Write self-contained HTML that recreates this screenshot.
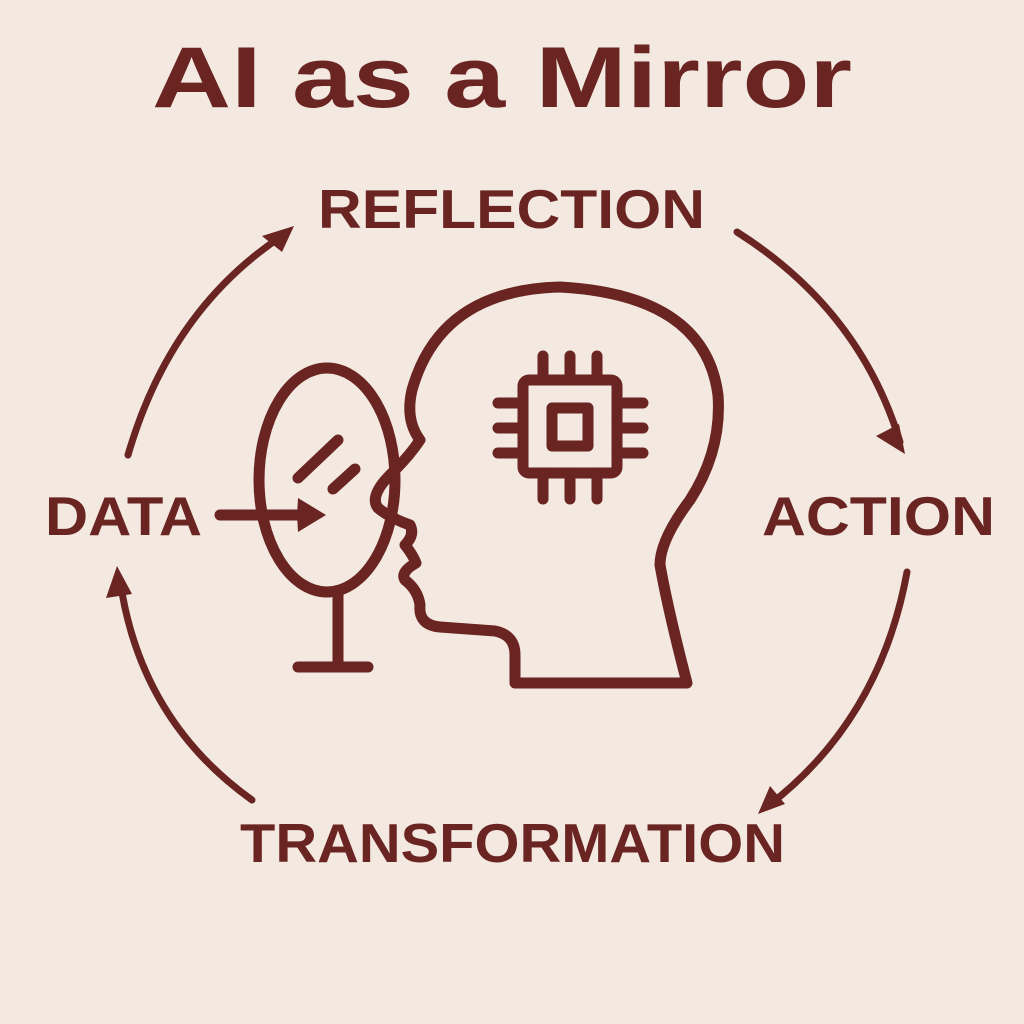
<!DOCTYPE html>
<html><head><meta charset="utf-8"><style>
html,body{margin:0;padding:0;background:#f3e9e0;}
svg{display:block}
text{font-family:"Liberation Sans",sans-serif;font-weight:bold;fill:#6a2422}
</style></head><body>
<svg width="1024" height="1024" viewBox="0 0 1024 1024">
<rect width="1024" height="1024" fill="#f3e9e0"/>
<text x="502" y="107" font-size="86" text-anchor="middle" textLength="700" lengthAdjust="spacingAndGlyphs">AI as a Mirror</text>
<text x="318" y="228" font-size="55" textLength="387" lengthAdjust="spacingAndGlyphs">REFLECTION</text>
<text x="45" y="535" font-size="55" textLength="157" lengthAdjust="spacingAndGlyphs">DATA</text>
<text x="762" y="535" font-size="55" textLength="233" lengthAdjust="spacingAndGlyphs">ACTION</text>
<text x="240" y="862" font-size="55" textLength="545" lengthAdjust="spacingAndGlyphs">TRANSFORMATION</text>
<g fill="none" stroke="#6a2422" stroke-width="11" stroke-linecap="round" stroke-linejoin="round">
<!-- cycle arcs -->
<path d="M128 455 Q170 310 282 236" stroke-width="7"/>
<path d="M737 232 Q860 310 900 442" stroke-width="7"/>
<path d="M907 572 Q880 720 768 806" stroke-width="7"/>
<path d="M252 800 Q140 720 120 580" stroke-width="7"/>
<!-- mirror -->
<ellipse cx="327" cy="480" rx="68" ry="112"/>
<line x1="338" y1="593" x2="338" y2="667"/>
<line x1="298" y1="667" x2="368" y2="667"/>
<line x1="298" y1="478" x2="338" y2="440"/>
<line x1="333" y1="489" x2="355" y2="469"/>
<line x1="220" y1="515" x2="300" y2="515"/>
<!-- head -->
<path d="M515 683 L687 683 Q668 610 660 565 Q660 540 690 500 Q722 450 718 395 Q705 295 560 287 Q440 290 412 390 Q405 420 420 440 Q410 455 395 470 Q368 495 378 508 Q390 518 410 525 Q415 535 405 545 Q413 555 416 563 Q400 572 405 580 Q418 590 420 605 Q418 625 440 627 L495 631 Q515 635 515 655 Z"/>
<!-- chip -->
<rect x="523" y="380" width="94" height="93" rx="6"/>
<rect x="552" y="408" width="36" height="38"/>
<path d="M543 356 V380 M570 356 V380 M597 356 V380 M543 473 V499 M570 473 V499 M597 473 V499 M498 403 H523 M498 428 H523 M498 453 H523 M617 403 H643 M617 428 H643 M617 453 H643"/>
</g>
<g fill="#6a2422">
<polygon points="297,515 298,498 326,515 298,532"/>
<polygon points="294,226 262,236 282,252"/>
<polygon points="905,454 876,436 899,424"/>
<polygon points="758,814 770,786 785,804"/>
<polygon points="117,566 106,598 132,594"/>
</g>
</svg>
</body></html>
